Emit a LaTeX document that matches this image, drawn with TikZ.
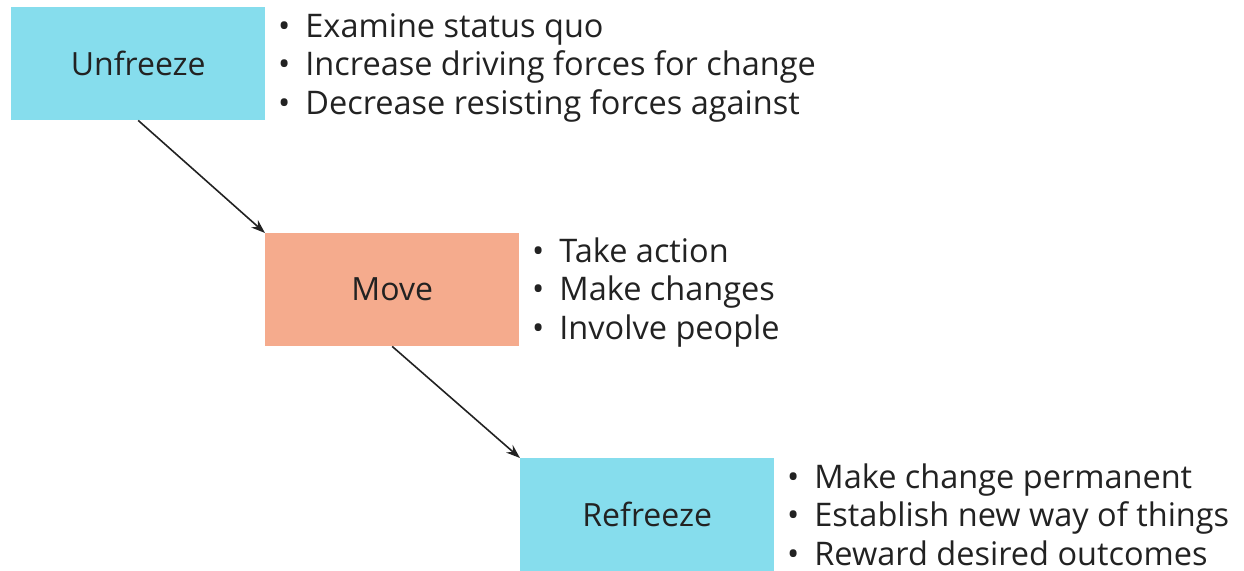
\documentclass[tikz,border=0pt]{standalone}
\usepackage{fontspec}
\setmainfont{Open Sans}
\usetikzlibrary{arrows.meta}
\definecolor{icecyan}{HTML}{86DDED}
\definecolor{movesalmon}{HTML}{F5AB8D}
\definecolor{txt}{HTML}{222222}
\begin{document}
\begin{tikzpicture}[x=1pt,y=-1pt,
  stagebox/.style={draw=none,minimum width=254pt,minimum height=113pt,inner sep=0pt,font=\fontsize{32}{36}\selectfont,text=txt},
  bul/.style={anchor=base west,inner sep=0pt,font=\fontsize{32.5}{36}\selectfont,text=txt},
  conn/.style={line width=1.6pt,-{Stealth[length=14pt,width=10pt]},draw=txt}]
\useasboundingbox (0,0) rectangle (1244,570);
\node[stagebox,fill=icecyan,anchor=north west] (u) at (11,7) {Unfreeze};
\node[stagebox,fill=movesalmon,anchor=north west] (m) at (265,233) {Move};
\node[stagebox,fill=icecyan,anchor=north west] (r) at (520,458) {Refreeze};
% lists
\foreach \t [count=\i] in {Examine status quo,Increase driving forces for change,Decrease resisting forces against}{
  \node[bul] (ub\i) at (278,{37+(\i-1)*38.5}) {\textbullet\hspace{15pt}\t};}
\foreach \t [count=\i] in {Take action,Make changes,Involve people}{
  \node[bul] (mb\i) at (532,{262+(\i-1)*38.5}) {\textbullet\hspace{15pt}\t};}
\foreach \t [count=\i] in {Make change permanent,Establish new way of things,Reward desired outcomes}{
  \node[bul] (rb\i) at (787,{488+(\i-1)*38.5}) {\textbullet\hspace{15pt}\t};}
\draw[conn] (u.south) -- (m.north west);
\draw[conn] (m.south) -- (r.north west);
\end{tikzpicture}
\end{document}
